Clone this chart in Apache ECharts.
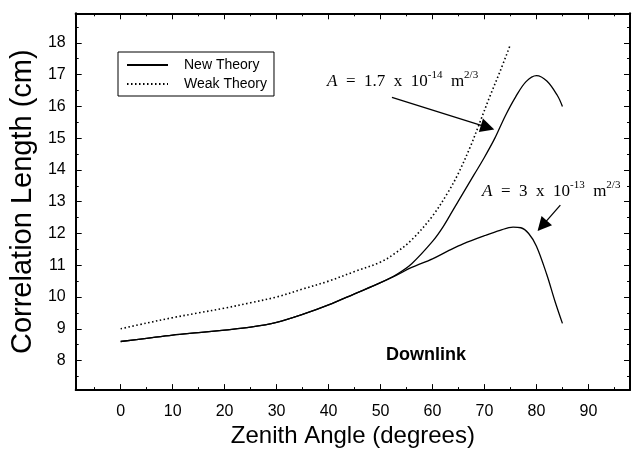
<!DOCTYPE html>
<html><head><meta charset="utf-8">
<script src="https://cdn.jsdelivr.net/npm/echarts@6/dist/echarts.min.js"></script>
<style>html,body{margin:0;padding:0;background:#fff}#c{width:632px;height:453px}</style>
</head><body><div id="c"></div>
<script>
// ---- data ----
const xTickValues = [0,10,20,30,40,50,60,70,80,90];
const xMinorValues = [-5,5,15,25,35,45,55,65,75,85,95];
const yTickValues = [8,9,10,11,12,13,14,15,16,17,18];
const yMinorValues = [7.5,8.5,9.5,10.5,11.5,12.5,13.5,14.5,15.5,16.5,17.5,18.5];

const newUpperX = [0,5,10,15,20,25,30,35,40,45,50,53,56,60,62,64,66,68,70,72,74,76,78,80,82,84,85];
const newUpperY = [8.6,8.7,8.8,8.88,8.96,9.05,9.2,9.45,9.75,10.1,10.45,10.7,11.05,11.75,12.2,12.75,13.3,13.85,14.4,15.0,15.7,16.3,16.78,16.97,16.8,16.35,16.0];

const newLowerX = [0,5,10,15,20,25,30,35,40,45,50,53,56,60,63,66,70,73,75.5,77,78.5,80,82,83.5,85];
const newLowerY = [8.6,8.7,8.8,8.88,8.96,9.05,9.2,9.45,9.75,10.1,10.45,10.68,10.93,11.2,11.45,11.68,11.93,12.1,12.2,12.18,12.0,11.6,10.7,9.9,9.17];

const weakX = [0,5,10,15,20,25,30,35,40,45,50,53,56,60,63,65,67.3,69,71.1,73,75];
const weakY = [9.0,9.18,9.35,9.5,9.65,9.82,10.0,10.25,10.5,10.8,11.1,11.4,11.8,12.55,13.3,13.9,14.74,15.45,16.34,17.1,17.95];

// annotation arrows (data coordinates: tail, head)
const arrow1 = [[52.2,16.28],[70.6,15.34]];
const arrow2 = [[84.6,12.89],[81.1,12.24]];

const legendNames = ['New Theory','Weak Theory'];
const annot1 = '{i|A}{n|  =  1.7  x  10}{s|-14}{n|  m}{s|2/3}';
const annot2 = '{i|A}{n|  =  3  x  10}{s|-13}{n|  m}{s|2/3}';
const label3 = 'Downlink';

const X_MIN = -8.65, X_MAX = 98, Y_MIN = 7.07, Y_MAX = 18.93;
const FONT = '"Liberation Sans", Arial, sans-serif';
const SERIF = '"Liberation Serif", "Times New Roman", serif';

function zip(xs, ys){ return xs.map((x,i)=>[x, ys[i]]); }

function xAx(pos, custom, len, labels, lineShow, extra){
  return Object.assign({
    type:'value', min:X_MIN, max:X_MAX, position:pos,
    axisLine:{show:lineShow, onZero:false, lineStyle:{color:'#000', width:2}},
    axisTick:{show:true, inside:true, length:len, customValues:custom, lineStyle:{color:'#000', width:1}},
    axisLabel:labels ? {show:true, customValues:custom, color:'#000', fontSize:16, fontFamily:FONT, margin:13} : {show:false},
    splitLine:{show:false}
  }, extra||{});
}
function yAx(pos, custom, len, labels, lineShow, extra){
  return Object.assign({
    type:'value', min:Y_MIN, max:Y_MAX, position:pos,
    axisLine:{show:lineShow, onZero:false, lineStyle:{color:'#000', width:2}},
    axisTick:{show:true, inside:true, length:len, customValues:custom, lineStyle:{color:'#000', width:1}},
    axisLabel:labels ? {show:true, customValues:custom, color:'#000', fontSize:16, fontFamily:FONT, margin:10} : {show:false},
    splitLine:{show:false}
  }, extra||{});
}
const richStyle = {
  i:{fontFamily:SERIF, fontStyle:'italic', fontSize:17, fill:'#000', verticalAlign:'bottom', lineHeight:20},
  n:{fontFamily:SERIF, fontSize:17, fill:'#000', verticalAlign:'bottom', lineHeight:20},
  s:{fontFamily:SERIF, fontSize:11, fill:'#000', verticalAlign:'top', lineHeight:12}
};

const chart = echarts.init(document.getElementById('c'), null, {renderer:'canvas'});
const arrowStyle = {color:'#000', width:1.3, type:'solid'};
chart.setOption({
  animation:false,
  backgroundColor:'#fff',
  grid:{left:75.5, right:2, top:13.3, bottom:56.5, containLabel:false},
  legend:{
    data:legendNames, orient:'vertical', left:118, top:52,
    itemWidth:41, itemHeight:14, itemGap:5,
    padding:[6,7,5,8],
    borderColor:'#000', borderWidth:1,
    itemStyle:{opacity:0},
    textStyle:{color:'#000', fontSize:14, fontFamily:FONT, padding:[0,0,0,11]},
    selectedMode:false
  },
  xAxis:[
    xAx('bottom', xTickValues, 6, true, true, {
      name:'Zenith Angle (degrees)', nameLocation:'middle', nameGap:32,
      nameTextStyle:{color:'#000', fontSize:24, fontFamily:FONT}
    }),
    xAx('bottom', xMinorValues, 3, false, false),
    xAx('top', xTickValues, 6, false, true),
    xAx('top', xMinorValues, 3, false, false)
  ],
  yAxis:[
    yAx('left', yTickValues, 6, true, true, {
      name:'Correlation Length (cm)', nameLocation:'middle', nameGap:36,
      nameTextStyle:{color:'#000', fontSize:29, fontFamily:FONT}
    }),
    yAx('left', yMinorValues, 3, false, false),
    yAx('right', yTickValues, 6, false, true),
    yAx('right', yMinorValues, 3, false, false)
  ],
  series:[
    {name:'New Theory', type:'line', data:zip(newUpperX,newUpperY), smooth:0.35, symbol:'none',
     lineStyle:{color:'#000', width:1.3}, itemStyle:{color:'#000'},
     markLine:{silent:true, symbol:['none','triangle'], symbolSize:14, label:{show:false},
       lineStyle:arrowStyle, itemStyle:{color:'#000'},
       data:[[{coord:arrow1[0]},{coord:arrow1[1]}],[{coord:arrow2[0]},{coord:arrow2[1]}]]}},
    {name:'New Theory', type:'line', data:zip(newLowerX,newLowerY), smooth:0.35, symbol:'none',
     lineStyle:{color:'#000', width:1.3}, itemStyle:{color:'#000'}},
    {name:'Weak Theory', type:'line', data:zip(weakX,weakY), smooth:0.35, symbol:'none',
     lineStyle:{color:'#000', width:1.6, type:[1.5,2.5]}, itemStyle:{color:'#000'}}
  ],
  graphic:[
    {type:'text', left:327, top:70, silent:true, style:{text:annot1, rich:richStyle}},
    {type:'text', left:482, top:180, silent:true, style:{text:annot2, rich:richStyle}},
    {type:'text', left:386, top:346, silent:true, style:{
      text:label3, fontFamily:FONT, fontWeight:'bold', fontSize:18, fill:'#000'}}
  ]
});
</script>
</body></html>
